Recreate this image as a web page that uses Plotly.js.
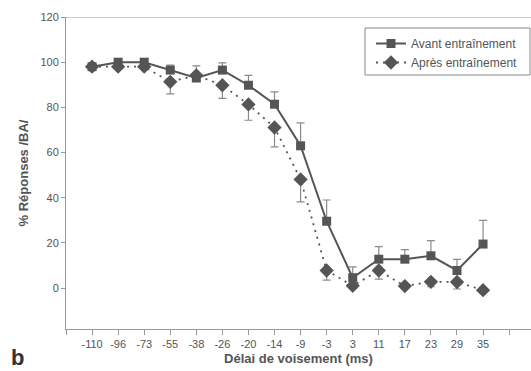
<!DOCTYPE html>
<html>
<head>
<meta charset="utf-8">
<script src="https://cdn.plot.ly/plotly-3.0.1.min.js"></script>
<style>html,body{margin:0;padding:0;background:#fff;}#chart{width:531px;height:371px;}</style>
</head>
<body>
<div id="chart"></div>
<script>
const categories = ['-110','-96','-73','-55','-38','-26','-20','-14','-9','-3','3','11','17','23','29','35'];
const avant = [98, 100, 100, 96.5, 93, 96.5, 89.8, 81.4, 63, 29.6, 4.6, 12.8, 12.8, 14.3, 7.8, 19.5];
const avantErrPlus = [0, 0, 0, 2.2, 5.4, 3.2, 4.4, 5.5, 10.1, 9.4, 4.8, 5.6, 4.2, 6.7, 4.9, 10.5];
const apres = [98, 98, 98, 91.3, 94.2, 89.8, 81.3, 71.1, 48.1, 7.8, 1, 7.8, 0.9, 2.8, 2.7, -0.9];
const apresErrMinus = [0, 0, 0, 5.3, 0, 5.8, 7, 8.6, 9.9, 4.3, 0, 3.8, 0, 2.2, 3.1, 0];
const yTicks = [0, 20, 40, 60, 80, 100, 120];

const idx = categories.map((c, i) => i);
const tickvals = [-1].concat(idx, [categories.length]);
const ticktext = [''].concat(categories, ['']);

const traces = [
  {
    x: idx, y: avant, name: 'Avant entraînement', type: 'scatter', mode: 'lines+markers',
    line: {color: '#555', width: 2},
    marker: {symbol: 'square', size: 9, color: '#555'},
    error_y: {type: 'data', symmetric: false, array: avantErrPlus, arrayminus: avant.map(() => 0),
      color: '#8a8a8a', thickness: 1.2, width: 4}
  },
  {
    x: idx, y: apres, name: 'Après entraînement', type: 'scatter', mode: 'lines+markers',
    line: {color: '#555', width: 1.8, dash: '2px,5px'},
    marker: {symbol: 'diamond', size: 11, color: '#555'},
    error_y: {type: 'data', symmetric: false, array: apres.map(() => 0), arrayminus: apresErrMinus,
      color: '#8a8a8a', thickness: 1.2, width: 4}
  }
];

const layout = {
  width: 531, height: 371,
  margin: {l: 66, r: 0, t: 17, b: 42},
  paper_bgcolor: '#fff', plot_bgcolor: '#fff',
  font: {family: '"Liberation Sans", Arial, sans-serif', color: '#555', size: 11},
  showlegend: true,
  legend: {x: (371 - 66) / 465, y: (329 - 29) / 312, xanchor: 'left', yanchor: 'top', borderwidth: 0,
    bgcolor: 'rgba(0,0,0,0)', font: {size: 12, color: '#555'}, tracegroupgap: 0},
  xaxis: {
    range: [-1, 16.84], tickmode: 'array', tickvals: tickvals, ticktext: ticktext,
    showgrid: false, zeroline: false, showline: true, linecolor: '#999', linewidth: 1,
    ticks: 'outside', ticklen: 5, tickcolor: '#999',
    tickfont: {size: 11, color: '#555'},
    title: {text: '<b>Délai de voisement (ms)</b>', font: {size: 13, color: '#555'}, standoff: 4}
  },
  yaxis: {
    range: [-18.1, 120], tickmode: 'array', tickvals: yTicks, ticktext: yTicks.map(String),
    showgrid: false, zeroline: false, showline: true, linecolor: '#999', linewidth: 1,
    ticks: 'outside', ticklen: 4, tickcolor: '#999',
    tickfont: {size: 11, color: '#555'},
    title: {text: '<b>% Réponses /BA/</b>', font: {size: 13, color: '#555'}, standoff: 8}
  },
  shapes: [
    {type: 'line', xref: 'paper', yref: 'y', x0: 0, x1: 1, y0: 120, y1: 120, line: {color: '#999', width: 1}},
    {type: 'rect', xref: 'paper', yref: 'paper', x0: (365 - 66) / 465, x1: (530 - 66) / 465,
      y0: (329 - 75) / 312, y1: (329 - 28) / 312, line: {color: '#888', width: 1}, fillcolor: 'rgba(0,0,0,0)'}
  ],
  annotations: [
    {text: '<b>b</b>', xref: 'paper', yref: 'paper', x: -0.105, y: -0.09, xanchor: 'center', yanchor: 'middle',
      showarrow: false, font: {size: 22, color: '#333'}}
  ]
};

Plotly.newPlot('chart', traces, layout, {staticPlot: true, displayModeBar: false});
</script>
</body>
</html>
